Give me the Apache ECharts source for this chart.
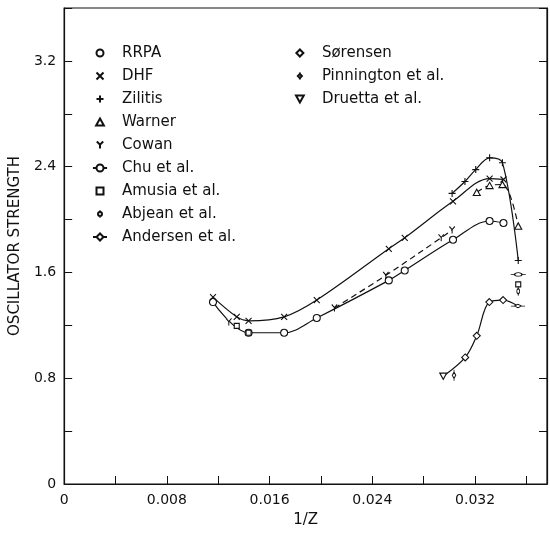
<!DOCTYPE html>
<html>
<head>
<meta charset="utf-8">
<script src="https://cdn.jsdelivr.net/npm/echarts@6/dist/echarts.min.js"></script>
<style>
  html, body { margin: 0; background: #fff; }
  #main { width: 550px; height: 533px; }
</style>
</head>
<body>
<div id="main"></div>
<script>
// [1/Z, oscillator strength]
var rrpa = [[0.01159,1.376],[0.01436,1.144],[0.01713,1.144],[0.01967,1.256],[0.02528,1.540],[0.02652,1.615],[0.03028,1.847],[0.03313,1.989],[0.03421,1.974]];
var dhf = [[0.01159,1.413],[0.01344,1.264],[0.01436,1.234],[0.01713,1.264],[0.01967,1.391],[0.02528,1.779],[0.02652,1.862],[0.03028,2.138],[0.03313,2.310],[0.03421,2.303]];
var zilitis = [[0.03021,2.198],[0.03121,2.288],[0.03205,2.378],[0.03313,2.467],[0.03413,2.430],[0.03536,1.690]];
var warner = [[0.03213,2.206],[0.03313,2.258],[0.03413,2.265],[0.03536,1.951]];
var cowan = [[0.01282,1.226],[0.02105,1.331],[0.02505,1.578],[0.02936,1.862],[0.03021,1.921]];
var chu = [[0.03536,1.585]];
var amusia = [[0.01344,1.196],[0.01436,1.144],[0.03536,1.510]];
var abjean = [[0.03536,1.458]];
var andersen = [[0.03534,1.346]];
var sorensen = [[0.03123,0.957],[0.03213,1.121],[0.03311,1.376],[0.03418,1.391]];
var pinnington = [[0.03036,0.822]];
var druetta = [[0.02952,0.815]];

var xTicks = ['0', '0.008', '0.016', '0.024', '0.032'];
var yTicks = ['0', '0.8', '1.6', '2.4', '3.2'];

var legendLeft = ['RRPA', 'DHF', 'Zilitis', 'Warner', 'Cowan', 'Chu et al.', 'Amusia et al.', 'Abjean et al.', 'Andersen et al.'];
var legendRight = ['Sørensen', 'Pinnington et al.', 'Druetta et al.'];

var font = 'DejaVu Sans';
var ink = '#111';

// marker shapes, all as paths so they keep their aspect in the legend too
var sym = {
  circle: 'path://M0,5A5,5 0 1,1 10,5A5,5 0 1,1 0,5Z',
  cross: 'path://M0,0L10,10M10,0L0,10',
  plus: 'path://M5,0L5,10M0,5L10,5',
  tri: 'path://M5,0L10,9L0,9Z',
  ysym: 'path://M0,0L5,5L10,0M5,5L5,11',
  chu: 'path://M0,5L4,5M12,5L16,5M4,5A4,4 0 1,1 12,5A4,4 0 1,1 4,5Z',
  square: 'path://M0,0L10,0L10,10L0,10Z',
  abjean: 'path://M5,0L5,3M5,11L5,14M1,7A4,4 0 1,1 9,7A4,4 0 1,1 1,7Z',
  andersen: 'path://M0,5L4,5M12,5L16,5M4,5L8,1L12,5L8,9Z',
  diamond: 'path://M5,0L10,5L5,10L0,5Z',
  pinn: 'path://M5,0L5,3M5,11L5,14M1,7L5,3L9,7L5,11Z',
  druetta: 'path://M0,0L10,0L5,9Z'
};

var myChart = echarts.init(document.getElementById('main'));

function marks(name, data, symbol, size) {
  return {
    name: name,
    type: 'scatter',
    data: data,
    symbol: symbol,
    symbolSize: size,
    symbolKeepAspect: true,
    z: 5,
    itemStyle: { color: '#fff', borderColor: ink, borderWidth: 1.1, opacity: 1 }
  };
}

function curve(data, dashed) {
  return {
    type: 'line',
    data: data,
    smooth: 0.35,
    showSymbol: false,
    silent: true,
    z: 2,
    lineStyle: { color: ink, width: 1.2, type: dashed ? [6, 4] : 'solid' }
  };
}

var legendBase = {
  orient: 'vertical',
  selectedMode: false,
  padding: 0,
  itemWidth: 34,
  itemHeight: 7,
  itemGap: 7,
  top: 45,
  textStyle: { fontFamily: font, fontSize: 15, color: ink, lineHeight: 16 }
};

myChart.setOption({
  animation: false,
  backgroundColor: '#fff',
  grid: { left: 57, right: 2, top: 8, bottom: 43, show: true, borderColor: ink, borderWidth: 1.2 },
  legend: [
    Object.assign({ left: 92, data: legendLeft }, legendBase),
    Object.assign({ left: 295, data: legendRight }, legendBase)
  ],
  xAxis: {
    type: 'value',
    min: 0,
    max: 0.0376,
    interval: 0.004,
    name: '1/Z',
    nameLocation: 'middle',
    nameGap: 29,
    nameTextStyle: { fontFamily: font, fontSize: 15, color: ink },
    axisLine: { lineStyle: { color: ink, width: 1.2 } },
    axisTick: { inside: true, length: 8, lineStyle: { color: ink } },
    splitLine: { show: false },
    axisLabel: {
      fontFamily: font, fontSize: 14, color: ink, margin: 9,
      formatter: function (v) {
        var k = Math.round(v / 0.004);
        return (k % 2 === 0 && k / 2 < xTicks.length) ? xTicks[k / 2] : '';
      }
    }
  },
  yAxis: [{
    type: 'value',
    min: 0,
    max: 3.6,
    interval: 0.4,
    name: 'OSCILLATOR STRENGTH',
    nameLocation: 'middle',
    nameGap: 35,
    nameTextStyle: { fontFamily: font, fontSize: 15, color: ink },
    axisLine: { show: true, lineStyle: { color: ink, width: 1.2 } },
    axisTick: { show: true, inside: true, length: 8, lineStyle: { color: ink } },
    splitLine: { show: false },
    axisLabel: {
      fontFamily: font, fontSize: 14, color: ink, margin: 8,
      formatter: function (v) {
        var k = Math.round(v / 0.4);
        return (k % 2 === 0 && k / 2 < yTicks.length) ? yTicks[k / 2] : '';
      }
    }
  }, {
    type: 'value',
    position: 'right',
    min: 0,
    max: 3.6,
    interval: 0.4,
    axisLine: { show: true, lineStyle: { color: ink, width: 1.2 } },
    axisTick: { show: true, inside: true, length: 8, lineStyle: { color: ink } },
    axisLabel: { show: false },
    splitLine: { show: false }
  }],
  series: [
    curve(rrpa),
    curve(dhf),
    curve(zilitis),
    curve(warner, true),
    curve(cowan.slice(1), true),
    curve(druetta.concat(sorensen, andersen)),
    marks('RRPA', rrpa, sym.circle, 7),
    marks('DHF', dhf, sym.cross, 6),
    marks('Zilitis', zilitis, sym.plus, 7),
    marks('Warner', warner, sym.tri, 7),
    marks('Cowan', cowan, sym.ysym, [6, 7]),
    marks('Chu et al.', chu, sym.chu, [15, 7]),
    marks('Amusia et al.', amusia, sym.square, 5),
    marks('Abjean et al.', abjean, sym.abjean, [5, 9]),
    marks('Andersen et al.', andersen, sym.andersen, [14, 7]),
    marks('Sørensen', sorensen, sym.diamond, 7),
    marks('Pinnington et al.', pinnington, sym.pinn, [6, 11]),
    marks('Druetta et al.', druetta, sym.druetta, 7)
  ]
});
</script>
</body>
</html>
